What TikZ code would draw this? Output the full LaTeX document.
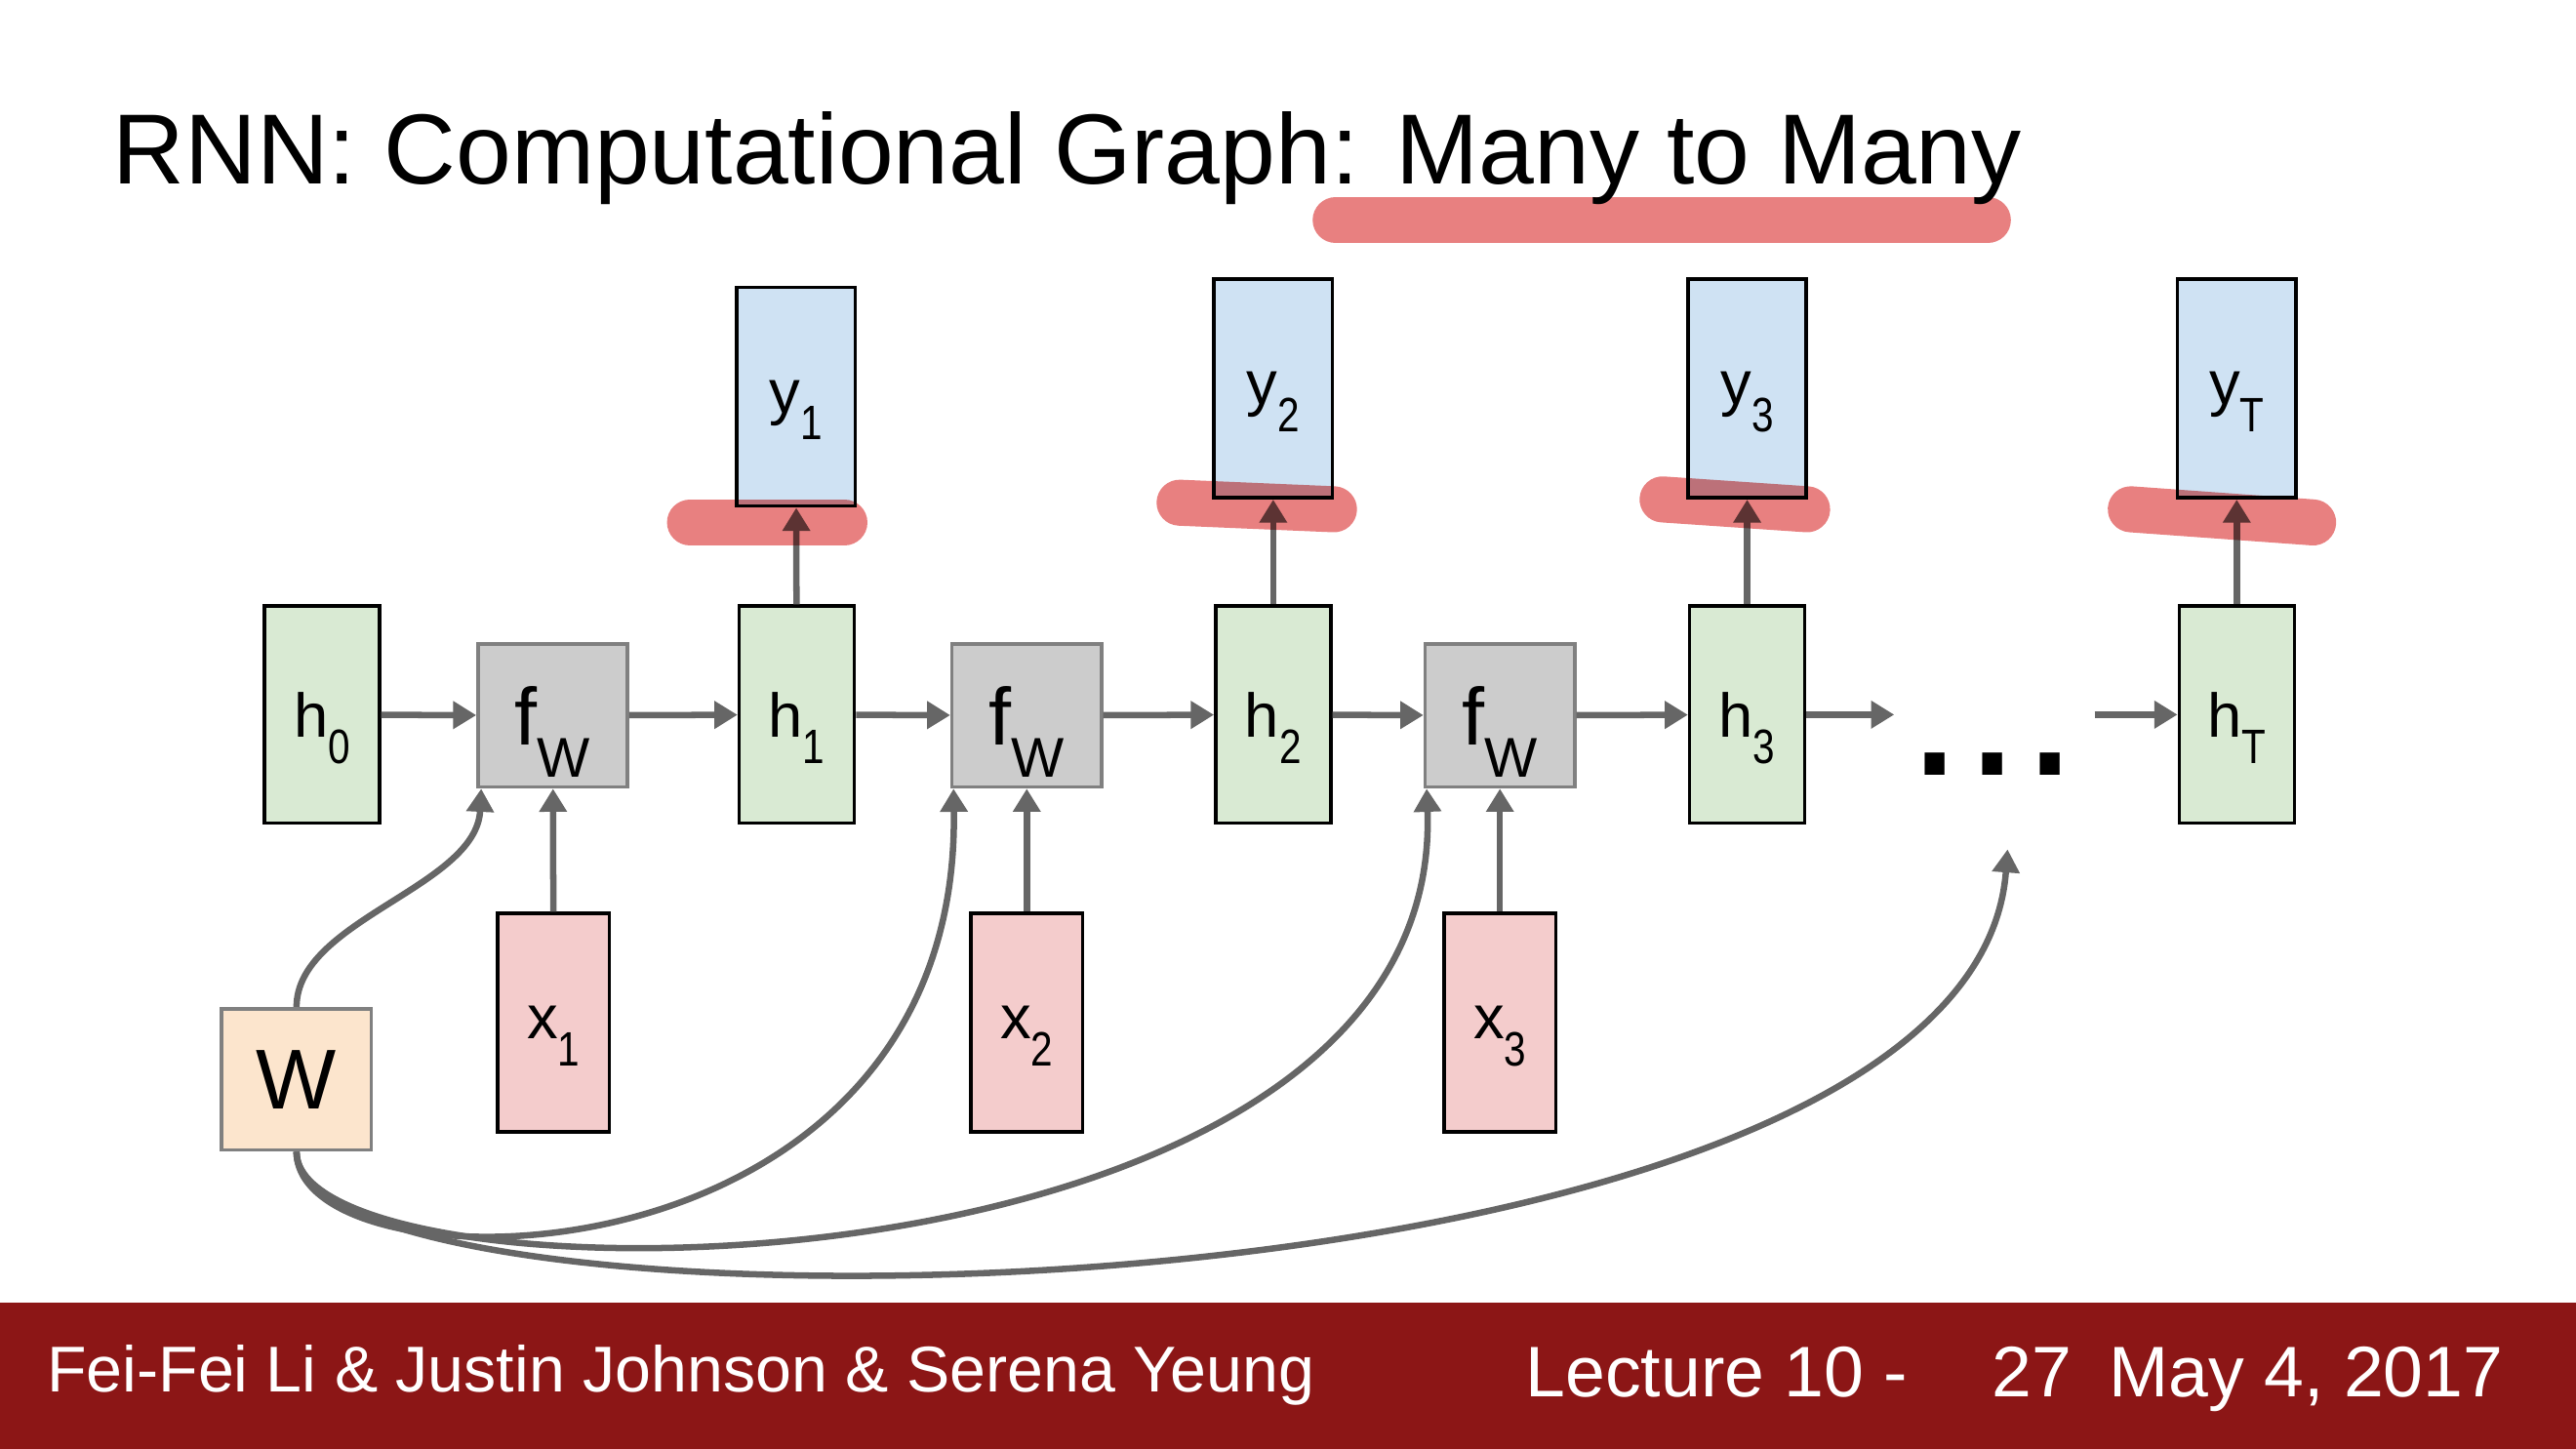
\documentclass[tikz,border=0pt]{standalone}
\usepackage{fontspec}
\setmainfont{Liberation Sans}
\usetikzlibrary{arrows.meta}
\definecolor{hgreen}{HTML}{D9EAD3}
\definecolor{yblue}{HTML}{CFE2F3}
\definecolor{xpink}{HTML}{F4CCCC}
\definecolor{fgray}{HTML}{CCCCCC}
\definecolor{wpeach}{HTML}{FCE5CD}
\definecolor{arrgray}{HTML}{666666}
\definecolor{hilitered}{HTML}{E88080}
\definecolor{footred}{HTML}{8C1616}
\newcommand{\vsub}[2]{{\fontsize{10.7pt}{12pt}\selectfont #1}\smash{\raisebox{-4.6pt}{\scalebox{0.9}[1.1]{\fontsize{7.6pt}{8pt}\selectfont #2}}}}
\newcommand{\fsub}{{\fontsize{14pt}{16pt}\selectfont f}\smash{\raisebox{-5.6pt}{\fontsize{9.7pt}{11pt}\selectfont W}}\hspace{0.12cm}}
\newcommand{\ylet}{\vphantom{x}\smash{y}}
\begin{document}
\begin{tikzpicture}[x=0.01cm, y=-0.01cm,
    hbox/.style={draw=black, line width=0.6pt, fill=hgreen, minimum width=0.70cm, minimum height=1.32cm, inner sep=0pt},
    ybox/.style={hbox, fill=yblue, minimum width=0.72cm, minimum height=1.33cm},
    xbox/.style={hbox, fill=xpink, minimum width=0.68cm, minimum height=1.33cm},
    fbox/.style={draw=gray, line width=0.6pt, fill=fgray, minimum width=0.91cm, minimum height=0.87cm, inner sep=0pt},
    wbox/.style={fbox, fill=wpeach, minimum height=0.86cm},
    link/.style={draw=arrgray, line width=1.1pt, -{Triangle[length=4pt,width=4.6pt]}},
    hilite/.style={draw=hilitered, line width=0.28cm, line cap=round, blend mode=multiply},
    plain/.style={inner sep=0pt}]
    \useasboundingbox (0,0) rectangle (1568,882);
    \draw[hilite] (813,134) -- (1210,134);
    \node[plain, anchor=base west] (title) at (68,112) {\fontsize{17.25pt}{20pt}\selectfont RNN: Computational Graph: Many to Many};
    \node[hbox] (h0) at (196,435) {\vsub{h}{0}};
    \node[fbox] (f1) at (336.5,435.5) {\fsub};
    \node[hbox] (h1) at (485,435) {\vsub{h}{1}};
    \node[fbox] (f2) at (625,435.5) {\fsub};
    \node[hbox] (h2) at (775,435) {\vsub{h}{2}};
    \node[fbox] (f3) at (913,435.5) {\fsub};
    \node[hbox] (h3) at (1063.5,435) {\vsub{h}{3}};
    \node[hbox] (hT) at (1361.5,435) {\vsub{h}{T}};
    \node[ybox] (y1) at (484.5,241.5) {\vsub{\ylet}{1}};
    \node[ybox] (y2) at (775,236.5) {\vsub{\ylet}{2}};
    \node[ybox] (y3) at (1063.5,236.5) {\vsub{\ylet}{3}};
    \node[ybox] (yT) at (1361.5,236.5) {\vsub{\ylet}{T}};
    \node[xbox] (x1) at (337,622.5) {\vsub{x}{1}};
    \node[xbox] (x2) at (625,622.5) {\vsub{x}{2}};
    \node[xbox] (x3) at (913,622.5) {\vsub{x}{3}};
    \node[wbox] (w) at (180.5,657) {\fontsize{14.7pt}{16pt}\selectfont W};
    \node[plain, anchor=base] (dots) at (1213,472) {\fontsize{36pt}{36pt}\selectfont ...};
    \coordinate (dotin) at (1153,435);
    \coordinate (dotout) at (1275,435);
    \coordinate (wfree) at (1222,517);
    \draw[link] (h0) -- (f1);
    \draw[link] (f1) -- (h1);
    \draw[link] (h1) -- (f2);
    \draw[link] (f2) -- (h2);
    \draw[link] (h2) -- (f3);
    \draw[link] (f3) -- (h3);
    \draw[link] (h3) -- (dotin);
    \draw[link] (dotout) -- (hT);
    \draw[link] (x1) -- (f1);
    \draw[link] (x2) -- (f2);
    \draw[link] (x3) -- (f3);
    \draw[link] (h1) -- (y1);
    \draw[link] (h2) -- (y2);
    \draw[link] (h3) -- (y3);
    \draw[link] (hT) -- (yT);
    \draw[link] (w.north) .. controls (180.5,560) and (290,540) .. ([xshift=0.03cm]f1.south west);
    \draw[link] (w.south) .. controls (180.5,790) and (585,790) .. ([xshift=0.02cm]f2.south west);
    \draw[link] (w.south) .. controls (180.5,800) and (880,800) .. ([xshift=0.02cm]f3.south west);
    \draw[link] (w.south) .. controls (180.5,825) and (1200,815) .. (wfree);
    \draw[hilite] (420,318) -- (514,318);
    \draw[hilite] (718,306) -- (812,310);
    \draw[hilite] (1012,304) -- (1100,310);
    \draw[hilite] (1297,310) -- (1408,318);
    \fill[footred] (0,793) rectangle (1568,882);
    \node[plain, anchor=base west, text=white] (authors) at (28,847) {\fontsize{11.2pt}{13pt}\selectfont Fei-Fei Li \& Justin Johnson \& Serena Yeung};
    \node[plain, anchor=base west, text=white] (lecture) at (928,850) {\fontsize{12.4pt}{14pt}\selectfont Lecture 10 -};
    \node[plain, anchor=base west, text=white] (page) at (1212,850) {\fontsize{12.4pt}{14pt}\selectfont 27};
    \node[plain, anchor=base west, text=white] (date) at (1283,850) {\fontsize{12.4pt}{14pt}\selectfont May 4, 2017};
\end{tikzpicture}
\end{document}
